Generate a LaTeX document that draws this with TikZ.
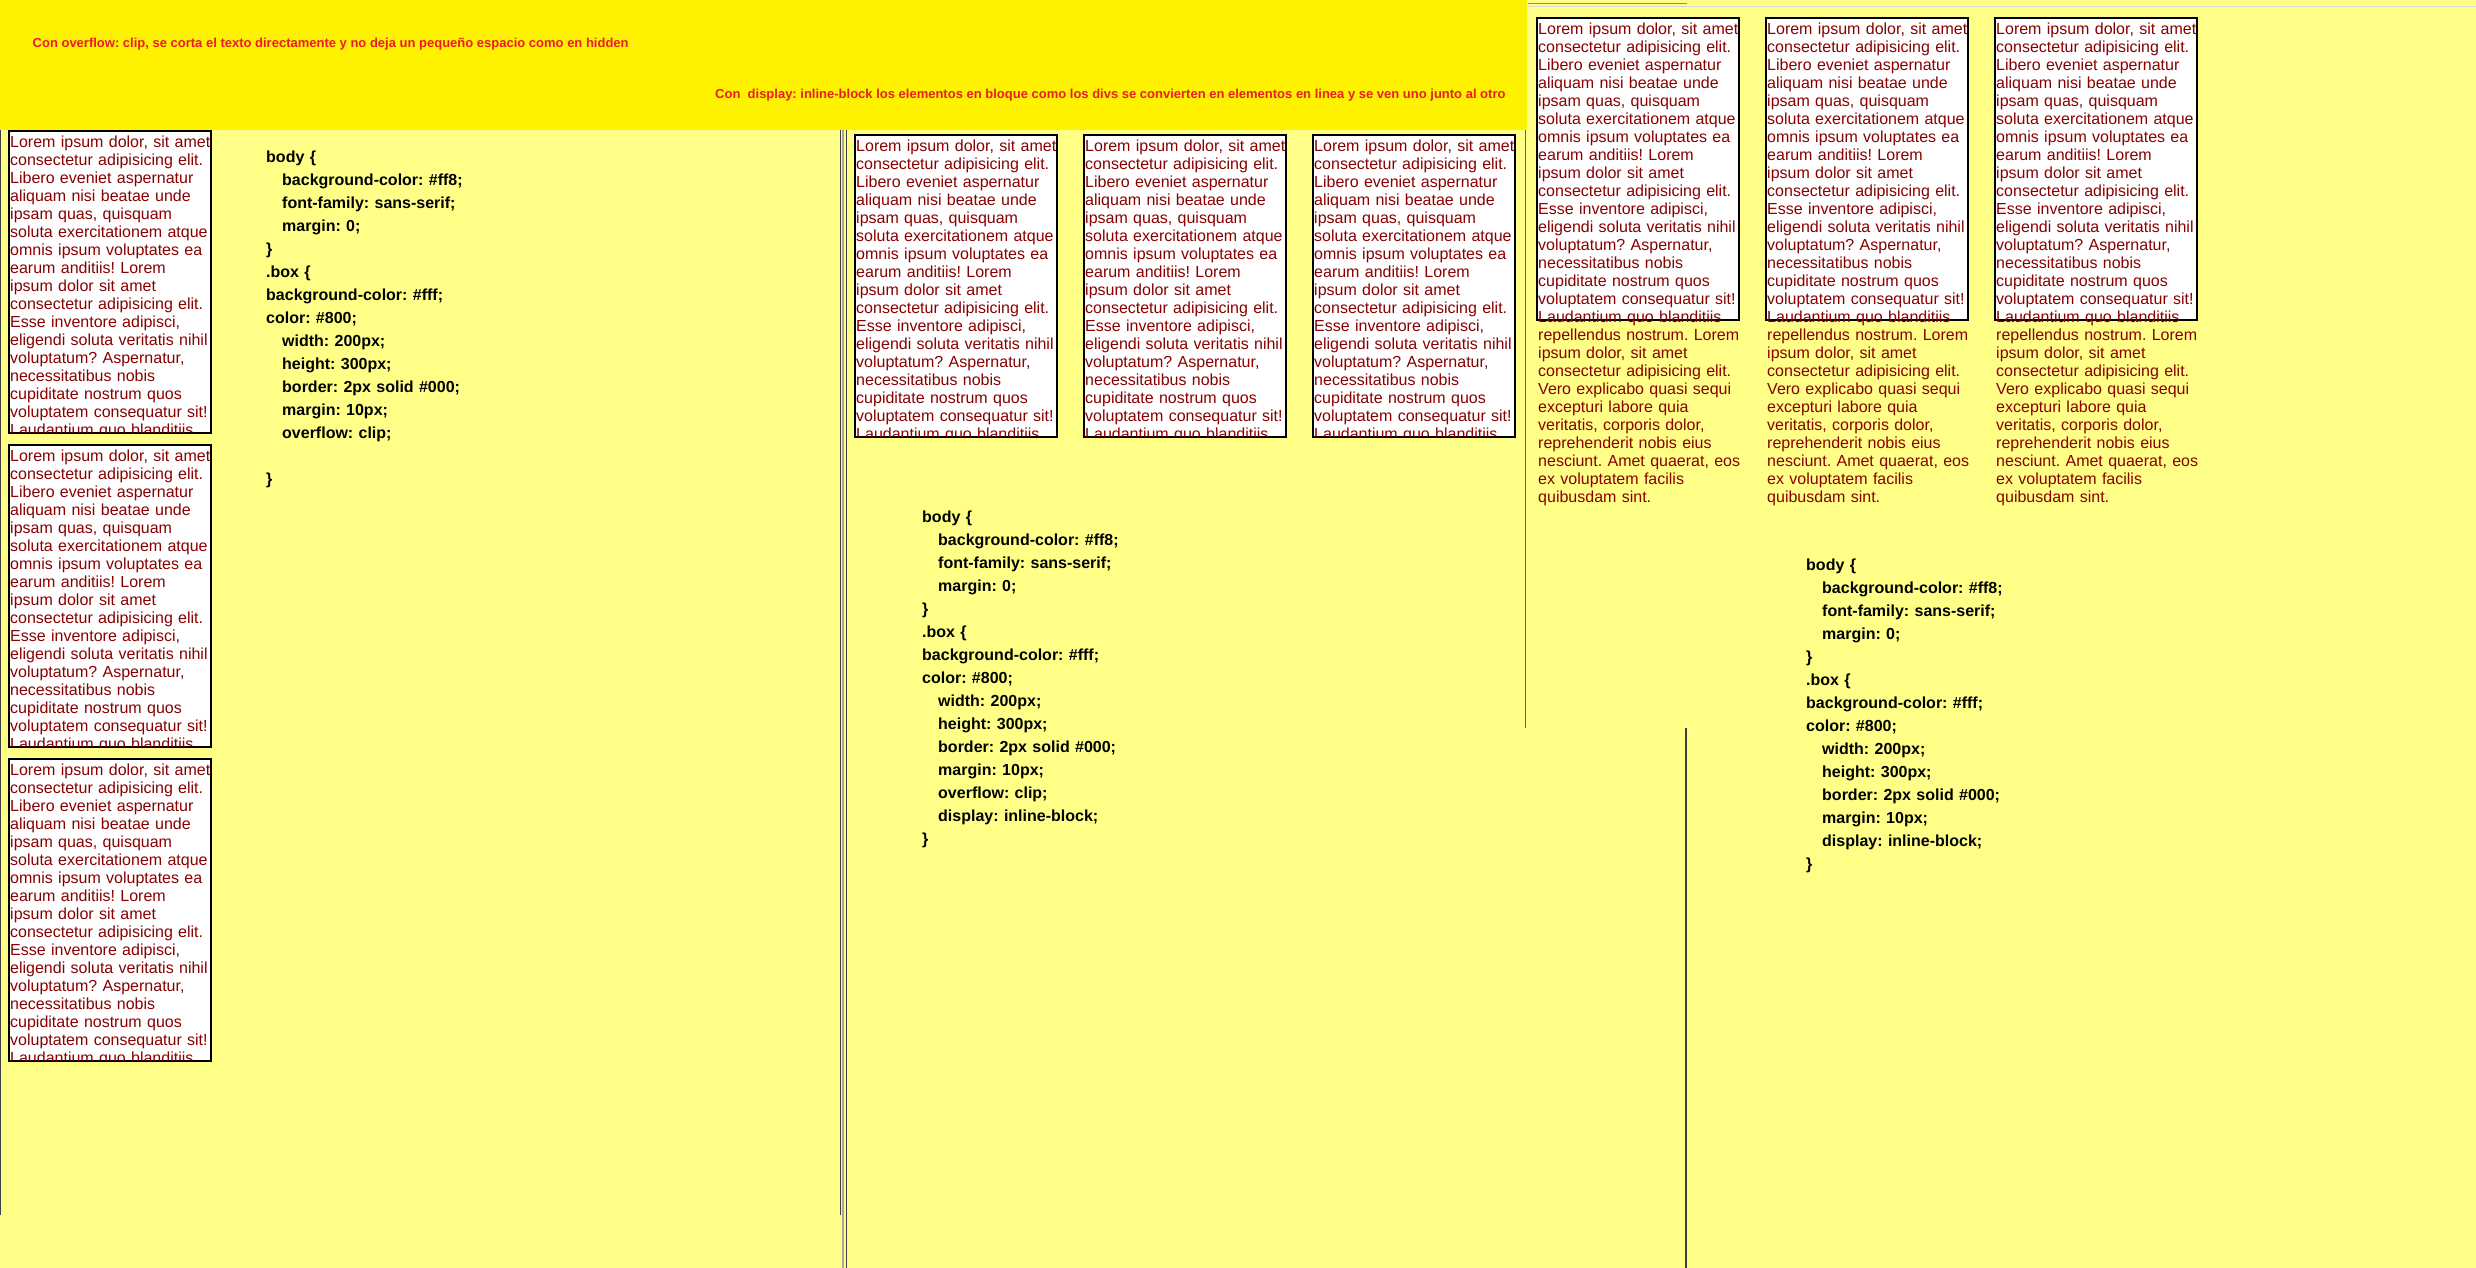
\documentclass[tikz,border=0pt]{standalone}
\usepackage{fontspec}
\setmainfont{Liberation Sans}

\definecolor{paper}{HTML}{FFFF88}
\definecolor{band}{HTML}{FFF200}
\definecolor{notered}{HTML}{EB1C24}
\definecolor{boxred}{HTML}{880000}

\tikzset{
    boxframe/.style={draw=black, line width=2pt, fill=white, anchor=north west,
        minimum width=202pt, minimum height=302pt, inner sep=0pt},
    boxtxt/.style={anchor=north west, inner sep=0pt, text width=260pt, align=left,
        text=boxred, font=\fontsize{16}{18}\selectfont\frenchspacing},
    codetxt/.style={anchor=north west, inner sep=0pt, text width=400pt, align=left,
        font=\fontsize{16}{23}\selectfont\bfseries\frenchspacing},
    notetxt/.style={anchor=base west, inner sep=0pt, text=notered,
        font=\fontsize{13}{15}\selectfont\bfseries\frenchspacing},
    paneline/.style={draw=black!75, line width=1pt}
}

\newcommand{\loremclip}{\rule{0pt}{15pt}Lorem ipsum dolor, sit amet\\
consectetur adipisicing elit.\\
Libero eveniet aspernatur\\
aliquam nisi beatae unde\\
ipsam quas, quisquam\\
soluta exercitationem atque\\
omnis ipsum voluptates ea\\
earum anditiis! Lorem\\
ipsum dolor sit amet\\
consectetur adipisicing elit.\\
Esse inventore adipisci,\\
eligendi soluta veritatis nihil\\
voluptatum? Aspernatur,\\
necessitatibus nobis\\
cupiditate nostrum quos\\
voluptatem consequatur sit!\\
Laudantium quo blanditiis}

\newcommand{\loremrest}{\\repellendus nostrum. Lorem\\
ipsum dolor, sit amet\\
consectetur adipisicing elit.\\
Vero explicabo quasi sequi\\
excepturi labore quia\\
veritatis, corporis dolor,\\
reprehenderit nobis eius\\
nesciunt. Amet quaerat, eos\\
ex voluptatem facilis\\
quibusdam sint.}

\newcommand{\csshead}{\rule{0pt}{15pt}body \{\\
\hspace*{16pt}background-color: \#ff8;\\
\hspace*{16pt}font-family: sans-serif;\\
\hspace*{16pt}margin: 0;\\
\}\\
.box \{\\
background-color: \#fff;\\
color: \#800;\\
\hspace*{16pt}width: 200px;\\
\hspace*{16pt}height: 300px;\\
\hspace*{16pt}border: 2px solid \#000;\\
\hspace*{16pt}margin: 10px;}

\begin{document}
\begin{tikzpicture}[x=1pt, y=-1pt]
    \useasboundingbox (0, 0) rectangle (2476, 1268);
    \fill[paper] (0, 0) rectangle (2476, 1268);
    \fill[band] (0, 0) rectangle (1527, 130);

    \draw[paneline] (0.5, 130) -- (0.5, 1215);
    \draw[paneline] (840.5, 130) -- (840.5, 1215);
    \draw[black!35, line width=2pt] (843, 130) -- (843, 1268);
    \draw[paneline] (846, 130) -- (846, 1268);
    \draw[black!60, line width=1pt] (1525.5, 130) -- (1525.5, 728);
    \draw[paneline, line width=1.5pt] (1686, 728) -- (1686, 1268);
    \draw[black!45, line width=1pt] (1528, 3.5) -- (1687, 3.5);
    \draw[black!15, line width=1pt] (1528, 6.5) -- (2476, 6.5);

    \node[notetxt] (noteclip) at (32.5, 48)
        {Con overflow: clip, se corta el texto directamente y no deja un pequeño espacio como en hidden};
    \node[notetxt] (noteinline) at (715, 99)
        {Con\ \ display: inline-block los elementos en bloque como los divs se convierten en elementos en linea y se ven uno junto al otro};

    \foreach \i/\yy in {1/130, 2/444, 3/758}{
        \node[boxframe] (clipbox\i) at (8, \yy) {};
        \begin{scope}
            \clip ([shift={(2, 2)}]clipbox\i.north west) rectangle ([shift={(-2, -2)}]clipbox\i.south east);
            \node[boxtxt] (cliptext\i) at ([shift={(2, 2)}]clipbox\i.north west) {\loremclip};
        \end{scope}
    }

    \foreach \i/\xx in {1/854, 2/1083, 3/1312}{
        \node[boxframe] (rowbox\i) at (\xx, 134) {};
        \begin{scope}
            \clip ([shift={(2, 2)}]rowbox\i.north west) rectangle ([shift={(-2, -2)}]rowbox\i.south east);
            \node[boxtxt] (rowtext\i) at ([shift={(2, 2)}]rowbox\i.north west) {\loremclip};
        \end{scope}
    }

    \foreach \i/\xx in {1/1536, 2/1765, 3/1994}{
        \node[boxframe] (openbox\i) at (\xx, 17) {};
        \node[boxtxt] (opentext\i) at ([shift={(2, 2)}]openbox\i.north west) {\loremclip\loremrest};
    }

    \node[codetxt] (codeclip) at (266, 147.5)
        {\csshead\\\hspace*{16pt}overflow: clip;\\\mbox{}\\\}};
    \node[codetxt] (coderow) at (922, 507)
        {\csshead\\\hspace*{16pt}overflow: clip;\\\hspace*{16pt}display: inline-block;\\\}};
    \node[codetxt] (codeopen) at (1806, 555)
        {\csshead\\\hspace*{16pt}display: inline-block;\\\}};

\end{tikzpicture}
\end{document}
